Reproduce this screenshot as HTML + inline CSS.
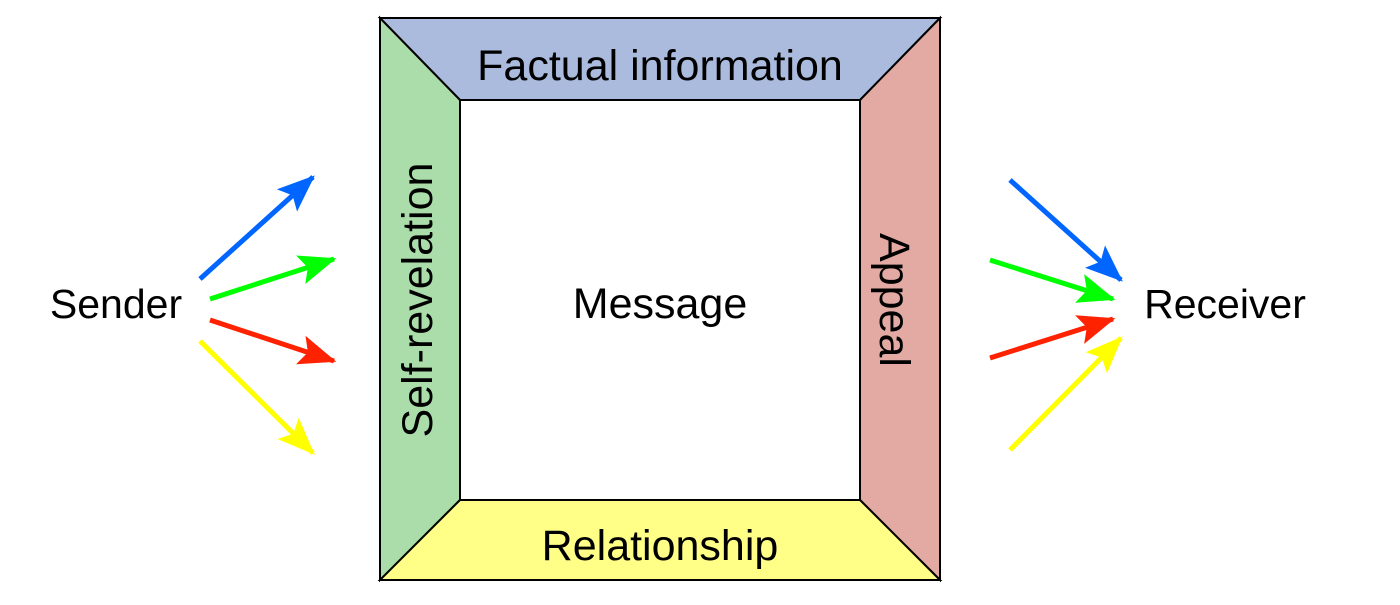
<!DOCTYPE html>
<html><head><meta charset="utf-8"><style>html,body{margin:0;padding:0;background:#fff}</style></head>
<body>
<svg width="1400" height="600" viewBox="0 0 1400 600" xmlns="http://www.w3.org/2000/svg" font-family="Liberation Sans, sans-serif">
<defs>
<marker id="ab" markerWidth="8" markerHeight="6" refX="7" refY="3" orient="auto" markerUnits="strokeWidth"><path d="M0,0 L7.5,3 L0,6 L1.5,3 Z" fill="#0066ff"/></marker>
<marker id="ag" markerWidth="8" markerHeight="6" refX="7" refY="3" orient="auto" markerUnits="strokeWidth"><path d="M0,0 L7.5,3 L0,6 L1.5,3 Z" fill="#00ff00"/></marker>
<marker id="ar" markerWidth="8" markerHeight="6" refX="7" refY="3" orient="auto" markerUnits="strokeWidth"><path d="M0,0 L7.5,3 L0,6 L1.5,3 Z" fill="#ff2200"/></marker>
<marker id="ay" markerWidth="8" markerHeight="6" refX="7" refY="3" orient="auto" markerUnits="strokeWidth"><path d="M0,0 L7.5,3 L0,6 L1.5,3 Z" fill="#ffff00"/></marker>
</defs>
<g stroke="#000" stroke-width="2">
<polygon points="380,18 940,18 860,100 460,100" fill="#aabbdd"/>
<polygon points="380,18 460,100 460,500 380,580" fill="#aaddaa"/>
<polygon points="940,18 940,580 860,500 860,100" fill="#e2aaa2"/>
<polygon points="380,580 460,500 860,500 940,580" fill="#ffff88"/>
<rect x="460" y="100" width="400" height="400" fill="#fff"/>
</g>
<g font-size="43" fill="#000" text-anchor="middle">
<text x="660" y="80">Factual information</text>
<text x="660" y="560">Relationship</text>
<text x="660" y="318">Message</text>
<text transform="translate(432,300) rotate(-90)">Self-revelation</text>
<text transform="translate(880,300) rotate(90)">Appeal</text>
<text x="116" y="318" font-size="41">Sender</text>
<text x="1225" y="318" font-size="41">Receiver</text>
</g>
<g stroke-width="5" fill="none">
<line x1="200" y1="279" x2="313" y2="177" stroke="#0066ff" marker-end="url(#ab)"/>
<line x1="210" y1="299" x2="334" y2="259" stroke="#00ff00" marker-end="url(#ag)"/>
<line x1="210" y1="320" x2="334" y2="361" stroke="#ff2200" marker-end="url(#ar)"/>
<line x1="200" y1="341" x2="313" y2="453" stroke="#ffff00" marker-end="url(#ay)"/>
<line x1="1010" y1="180" x2="1121" y2="280" stroke="#0066ff" marker-end="url(#ab)"/>
<line x1="990" y1="260" x2="1113" y2="299" stroke="#00ff00" marker-end="url(#ag)"/>
<line x1="990" y1="358" x2="1113" y2="319" stroke="#ff2200" marker-end="url(#ar)"/>
<line x1="1010" y1="450" x2="1121" y2="338" stroke="#ffff00" marker-end="url(#ay)"/>
</g>
</svg>
</body></html>
